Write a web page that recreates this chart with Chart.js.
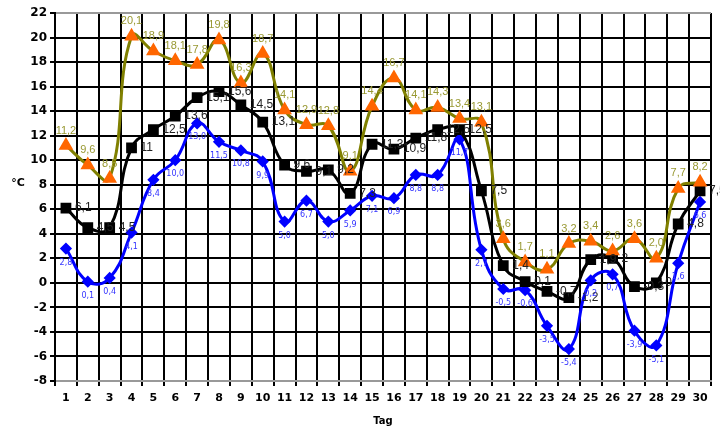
<!DOCTYPE html>
<html>
<head>
<meta charset="utf-8">
<script src="https://cdn.jsdelivr.net/npm/chart.js@4"></script>
<style>
  html, body { margin: 0; padding: 0; background: #fff; }
  #wrap { width: 720px; height: 427px; }
</style>
</head>
<body>
<div id="wrap"><canvas id="tempChart" width="720" height="427"></canvas></div>
<script>
// days of the month
const days = ["1","2","3","4","5","6","7","8","9","10","11","12","13","14","15",
              "16","17","18","19","20","21","22","23","24","25","26","27","28","29","30"];

// daily maximum, mean and minimum temperature (°C)
const tMax = [11.2, 9.6, 8.5, 20.1, 18.9, 18.1, 17.8, 19.8, 16.3, 18.7,
              14.1, 12.9, 12.8, 9.1, 14.4, 16.7, 14.1, 14.3, 13.4, 13.1,
              3.6, 1.7, 1.1, 3.2, 3.4, 2.6, 3.6, 2.0, 7.7, 8.2];
const tMean = [6.1, 4.5, 4.5, 11, 12.5, 13.6, 15.1, 15.6, 14.5, 13.1,
               9.6, 9.1, 9.2, 7.3, 11.3, 10.9, 11.8, 12.5, 12.5, 7.5,
               1.4, 0.1, -0.7, -1.2, 1.9, 2, -0.3, 0, 4.8, 7.5];
const tMin = [2.8, 0.1, 0.4, 4.1, 8.4, 10.0, 13.0, 11.5, 10.8, 9.9,
              5.0, 6.7, 5.0, 5.9, 7.1, 6.9, 8.8, 8.8, 11.7, 2.7,
              -0.5, -0.6, -3.5, -5.4, 0.2, 0.7, -3.9, -5.1, 1.6, 6.6];

// y axis range
const yMin = -8;
const yMax = 22;
const yStep = 2;

const comma = s => s.replace(".", ",");

// ================= DATA LABELS =================
const valueLabels = {
  id: "valueLabels",
  afterDatasetsDraw(chart) {
    const ctx = chart.ctx;
    chart.data.datasets.forEach((ds, i) => {
      const meta = chart.getDatasetMeta(i);
      const lbl = ds.labelStyle;
      ctx.save();
      ctx.font = lbl.font;
      ctx.fillStyle = lbl.color;
      ctx.textAlign = lbl.align;
      ctx.textBaseline = "middle";
      meta.data.forEach((pt, j) => {
        ctx.fillText(lbl.format(ds.data[j]), pt.x + lbl.dx, pt.y + lbl.dy);
      });
      ctx.restore();
    });

    // unit label, horizontal, left of the y axis
    ctx.save();
    ctx.font = "bold 11px Verdana, 'DejaVu Sans', sans-serif";
    ctx.fillStyle = "#000";
    ctx.textAlign = "center";
    ctx.textBaseline = "middle";
    ctx.fillText("°C", 18, 183);
    ctx.restore();
  }
};

const ctx = document.getElementById("tempChart").getContext("2d");

new Chart(ctx, {
  type: "line",
  data: {
    labels: days,
    datasets: [
      {
        label: "Max",
        data: tMax,
        borderColor: "#808000",
        borderWidth: 3,
        tension: 0.45,
        pointStyle: "triangle",
        pointRadius: 5.5,
        pointBackgroundColor: "#ff6600",
        pointBorderColor: "#ff6600",
        labelStyle: {
          font: "11px Arial, 'Liberation Sans', sans-serif",
          color: "#999933", align: "center", dx: 0, dy: -15,
          format: v => comma(v.toFixed(1))
        }
      },
      {
        label: "Mittel",
        data: tMean,
        borderColor: "#000000",
        borderWidth: 3,
        tension: 0.45,
        pointStyle: "rect",
        pointRadius: 5.5,
        pointBackgroundColor: "#000000",
        pointBorderColor: "#000000",
        labelStyle: {
          font: "12px Arial, 'Liberation Sans', sans-serif",
          color: "#222222", align: "left", dx: 9, dy: 0,
          format: v => comma(String(v))
        }
      },
      {
        label: "Min",
        data: tMin,
        borderColor: "#0000ff",
        borderWidth: 3,
        tension: 0.45,
        pointStyle: "rectRot",
        pointRadius: 4,
        pointBackgroundColor: "#0000ff",
        pointBorderColor: "#0000ff",
        labelStyle: {
          font: "8px Verdana, 'DejaVu Sans', sans-serif",
          color: "#3333ff", align: "center", dx: 0, dy: 14,
          format: v => comma(v.toFixed(1))
        }
      }
    ]
  },
  options: {
    responsive: false,
    animation: false,
    layout: { padding: { top: 13, right: 9, left: 0, bottom: 0 } },
    plugins: {
      legend: { display: false },
      tooltip: { enabled: false }
    },
    scales: {
      x: {
        offset: true,
        grid: {
          offset: true,
          color: c => (c.index === days.length ? "#999999" : "#000000"),
          lineWidth: 2,
          tickLength: 5,
          tickColor: "#000000"
        },
        border: { color: "#999999", width: 2 },
        ticks: {
          color: "#000",
          font: { family: "Verdana, 'DejaVu Sans', sans-serif", size: 11, weight: "bold" },
          padding: 6,
          maxRotation: 0,
          autoSkip: false
        },
        title: {
          display: true,
          text: "Tag",
          color: "#000",
          font: { family: "Verdana, 'DejaVu Sans', sans-serif", size: 10, weight: "bold" },
          padding: { top: 4, bottom: 0 }
        },
        afterFit: scale => { scale.height = 46; }
      },
      y: {
        min: yMin,
        max: yMax,
        ticks: {
          stepSize: yStep,
          color: "#000",
          font: { family: "Verdana, 'DejaVu Sans', sans-serif", size: 12, weight: "bold" },
          padding: 3
        },
        grid: {
          color: c => (c.tick && c.tick.value === yMax ? "#999999" : "#000000"),
          lineWidth: 2,
          tickLength: 5,
          tickColor: "#000000"
        },
        border: { color: "#000000", width: 2 },
        afterFit: scale => { scale.width = 55; }
      }
    }
  },
  plugins: [valueLabels]
});
</script>
</body>
</html>
